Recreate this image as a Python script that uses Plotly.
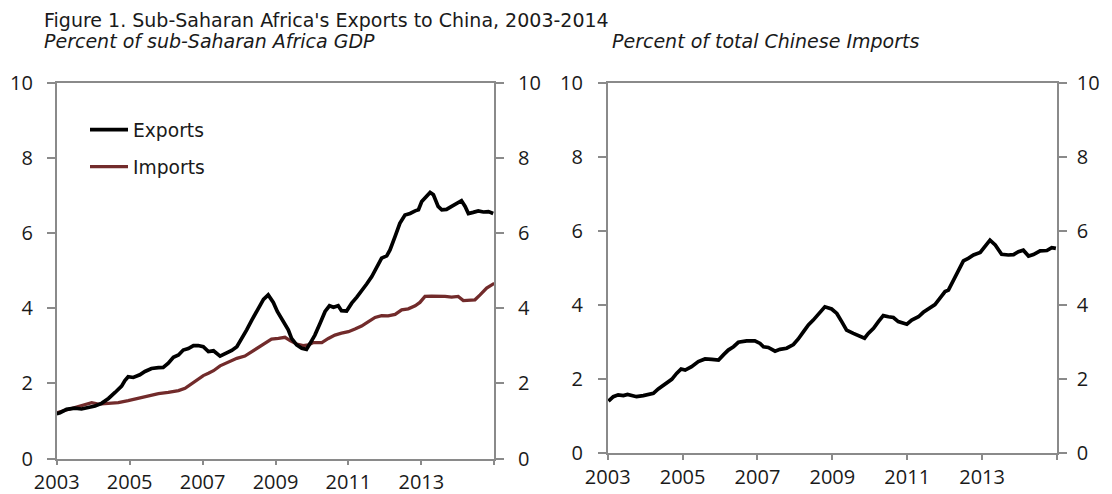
import plotly.graph_objects as go

# ---------------- data ----------------
exports_t = [2003.00, 2003.09, 2003.27, 2003.50, 2003.68, 2003.87, 2004.05, 2004.23, 2004.42, 2004.60,
             2004.78, 2004.87, 2004.96, 2005.10, 2005.28, 2005.42, 2005.60, 2005.79, 2005.92, 2006.06,
             2006.20, 2006.34, 2006.47, 2006.61, 2006.75, 2006.88, 2007.02, 2007.16, 2007.30, 2007.48,
             2007.62, 2007.80, 2007.94, 2008.07, 2008.21, 2008.35, 2008.48, 2008.57, 2008.67, 2008.80,
             2008.94, 2009.05, 2009.21, 2009.35, 2009.44, 2009.58, 2009.72, 2009.85, 2009.95, 2010.08,
             2010.22, 2010.36, 2010.48, 2010.59, 2010.72, 2010.81, 2010.95, 2011.09, 2011.23, 2011.36,
             2011.50, 2011.64, 2011.77, 2011.91, 2012.05, 2012.14, 2012.28, 2012.41, 2012.55, 2012.69,
             2012.83, 2012.92, 2013.01, 2013.14, 2013.24, 2013.33, 2013.46, 2013.56, 2013.69, 2013.83,
             2013.97, 2014.10, 2014.20, 2014.29, 2014.42, 2014.56, 2014.70, 2014.84, 2014.97]
exports_v = [1.19, 1.22, 1.31, 1.34, 1.32, 1.36, 1.40, 1.47, 1.60, 1.76,
             1.93, 2.08, 2.18, 2.16, 2.23, 2.32, 2.40, 2.42, 2.43, 2.54,
             2.70, 2.76, 2.89, 2.93, 3.01, 3.01, 2.98, 2.85, 2.87, 2.73,
             2.80, 2.88, 2.98, 3.18, 3.43, 3.69, 3.91, 4.05, 4.24, 4.36,
             4.16, 3.92, 3.65, 3.43, 3.20, 3.03, 2.94, 2.91, 3.07, 3.29,
             3.60, 3.92, 4.07, 4.03, 4.07, 3.94, 3.93, 4.14, 4.30, 4.49,
             4.65, 4.85, 5.07, 5.34, 5.40, 5.56, 5.92, 6.27, 6.49, 6.53,
             6.60, 6.63, 6.85, 6.98, 7.09, 7.03, 6.72, 6.63, 6.64, 6.72,
             6.80, 6.87, 6.72, 6.53, 6.56, 6.60, 6.57, 6.58, 6.53]

imports_t = [2003.00, 2003.23, 2003.50, 2003.73, 2003.96, 2004.14, 2004.42, 2004.69, 2004.96, 2005.24,
             2005.51, 2005.79, 2006.06, 2006.34, 2006.52, 2006.70, 2006.88, 2007.02, 2007.16, 2007.30,
             2007.48, 2007.71, 2007.94, 2008.16, 2008.35, 2008.53, 2008.71, 2008.89, 2009.08, 2009.26,
             2009.40, 2009.58, 2009.76, 2009.90, 2010.04, 2010.27, 2010.45, 2010.63, 2010.81, 2011.00,
             2011.18, 2011.36, 2011.55, 2011.73, 2011.91, 2012.09, 2012.28, 2012.46, 2012.64, 2012.83,
             2012.96, 2013.10, 2013.28, 2013.46, 2013.65, 2013.83, 2014.01, 2014.15, 2014.33, 2014.47,
             2014.61, 2014.79, 2015.00]
imports_v = [1.22, 1.29, 1.36, 1.43, 1.49, 1.45, 1.46, 1.49, 1.54, 1.60,
             1.68, 1.73, 1.76, 1.81, 1.87, 1.99, 2.11, 2.21, 2.27, 2.34,
             2.47, 2.58, 2.67, 2.73, 2.85, 2.96, 3.09, 3.18, 3.20, 3.23,
             3.14, 3.05, 3.01, 3.03, 3.09, 3.09, 3.20, 3.29, 3.34, 3.38,
             3.45, 3.53, 3.65, 3.76, 3.81, 3.80, 3.84, 3.96, 3.99, 4.07,
             4.16, 4.32, 4.33, 4.33, 4.32, 4.30, 4.32, 4.21, 4.23, 4.23,
             4.36, 4.54, 4.67]

share_t = [2003.02, 2003.15, 2003.28, 2003.42, 2003.53, 2003.64, 2003.77, 2003.95, 2004.09, 2004.22,
           2004.35, 2004.53, 2004.71, 2004.84, 2004.96, 2005.07, 2005.24, 2005.42, 2005.60, 2005.78,
           2005.96, 2006.09, 2006.22, 2006.36, 2006.49, 2006.71, 2006.93, 2007.07, 2007.16, 2007.29,
           2007.47, 2007.60, 2007.78, 2007.96, 2008.09, 2008.23, 2008.36, 2008.49, 2008.63, 2008.80,
           2008.98, 2009.12, 2009.25, 2009.38, 2009.56, 2009.70, 2009.86, 2009.96, 2010.10, 2010.23,
           2010.36, 2010.50, 2010.63, 2010.76, 2010.90, 2010.99, 2011.12, 2011.30, 2011.43, 2011.61,
           2011.74, 2011.88, 2012.01, 2012.10, 2012.23, 2012.37, 2012.50, 2012.63, 2012.77, 2012.95,
           2013.08, 2013.21, 2013.35, 2013.52, 2013.70, 2013.84, 2013.97, 2014.10, 2014.24, 2014.37,
           2014.55, 2014.73, 2014.86, 2014.97]
share_v = [1.41, 1.53, 1.58, 1.56, 1.59, 1.56, 1.53, 1.56, 1.58, 1.62,
           1.74, 1.86, 2.00, 2.16, 2.28, 2.25, 2.34, 2.48, 2.55, 2.54,
           2.52, 2.66, 2.79, 2.88, 3.00, 3.04, 3.04, 2.97, 2.88, 2.86,
           2.76, 2.81, 2.84, 2.94, 3.09, 3.29, 3.47, 3.60, 3.75, 3.96,
           3.90, 3.78, 3.56, 3.33, 3.24, 3.17, 3.11, 3.24, 3.38, 3.56,
           3.72, 3.69, 3.67, 3.56, 3.51, 3.49, 3.60, 3.69, 3.81, 3.92,
           4.02, 4.20, 4.37, 4.41, 4.68, 4.95, 5.20, 5.27, 5.36, 5.43,
           5.58, 5.76, 5.63, 5.38, 5.36, 5.37, 5.45, 5.49, 5.33, 5.37,
           5.47, 5.48, 5.56, 5.54]

year_ticks = [2003, 2005, 2007, 2009, 2011, 2013, 2015]
year_labels = ["2003", "2005", "2007", "2009", "2011", "2013", ""]
y_ticks = [0, 2, 4, 6, 8, 10]

title_text = "Figure 1. Sub-Saharan Africa's Exports to China, 2003-2014"
left_subtitle = "Percent of sub-Saharan Africa GDP"
right_subtitle = "Percent of total Chinese Imports"

# ---------------- styling ----------------
W, H = 1112, 494
OFF = 8  # the page body adds an 8px margin around the figure
AX = "#8a8a8a"
TXT = "#1a1a1a"
TICKFONT = dict(family="Open Sans", size=20, color=TXT)
HEADFONT = dict(family="DejaVu Sans", size=19, color=TXT)
LEGFONT = dict(family="DejaVu Sans", size=18.7, color=TXT)

def px_x(p):
    return (p - OFF) / W

def px_y(p):
    return 1 - (p - OFF) / H

fig = go.Figure()

fig.add_trace(go.Scatter(x=imports_t, y=imports_v, name="Imports", mode="lines",
                         line=dict(color="#722b2b", width=3.3), xaxis="x", yaxis="y",
                         legend="legend2", hoverinfo="skip"))
fig.add_trace(go.Scatter(x=exports_t, y=exports_v, name="Exports", mode="lines",
                         line=dict(color="#000000", width=3.7), xaxis="x", yaxis="y2",
                         legend="legend", hoverinfo="skip"))
fig.add_trace(go.Scatter(x=share_t, y=share_v, name="Share", mode="lines",
                         line=dict(color="#000000", width=3.7), xaxis="x2", yaxis="y4",
                         showlegend=False, hoverinfo="skip"))
# keeps the primary axis of the right panel attached to a trace
fig.add_trace(go.Scatter(x=share_t, y=share_v, mode="lines", line=dict(width=0, color="rgba(0,0,0,0)"),
                         xaxis="x2", yaxis="y3", showlegend=False, hoverinfo="skip"))

xdom1 = [px_x(56.7), px_x(494.3)]
xdom2 = [px_x(607.7), px_x(1057)]
ydom1 = [px_y(458.5), px_y(83.3)]
ydom2 = [px_y(453.3), px_y(83.3)]

xcommon = dict(range=[2003, 2015], tickmode="array", tickvals=year_ticks, ticktext=year_labels,
               showgrid=False, zeroline=False, showline=True, linecolor=AX, linewidth=1.5,
               mirror=True, ticks="outside", tickcolor=AX, tickwidth=1.5,
               tickfont=TICKFONT, automargin=False)
ycommon = dict(range=[0, 10], tickmode="array", tickvals=y_ticks, showgrid=False, zeroline=False,
               showline=True, linecolor=AX, linewidth=1.5, ticks="outside", ticklen=8,
               tickcolor=AX, tickwidth=1.5, tickfont=TICKFONT, fixedrange=True, automargin=False)

fig.update_layout(
    template="none",
    width=W, height=H, autosize=False,
    margin=dict(l=0, r=0, t=0, b=0, pad=0, autoexpand=False),
    paper_bgcolor="white", plot_bgcolor="white",
    xaxis=dict(domain=xdom1, anchor="y", ticklen=5, ticklabelstandoff=0, **xcommon),
    xaxis2=dict(domain=xdom2, anchor="y3", ticklen=5, ticklabelstandoff=0, **xcommon),
    yaxis=dict(domain=ydom1, anchor="x", side="left", ticklabelstandoff=10, **ycommon),
    yaxis2=dict(domain=ydom1, anchor="x", overlaying="y", side="right", ticklabelstandoff=10, **ycommon),
    yaxis3=dict(domain=ydom2, anchor="x2", side="left", ticklabelstandoff=11, **ycommon),
    yaxis4=dict(domain=ydom2, anchor="x2", overlaying="y3", side="right", ticklabelstandoff=6, **ycommon),
    legend=dict(x=px_x(85), y=px_y(130), xanchor="left", yanchor="middle",
                bgcolor="rgba(0,0,0,0)", borderwidth=0, font=LEGFONT, itemwidth=38),
    legend2=dict(x=px_x(85), y=px_y(167), xanchor="left", yanchor="middle",
                 bgcolor="rgba(0,0,0,0)", borderwidth=0, font=LEGFONT, itemwidth=38),
    showlegend=True,
    annotations=[
        dict(text=title_text, xref="paper", yref="paper", x=px_x(42), y=px_y(20.2),
             xanchor="left", yanchor="middle", showarrow=False, font=HEADFONT),
        dict(text="<i>" + left_subtitle + "</i>", xref="paper", yref="paper", x=px_x(42), y=px_y(40.6),
             xanchor="left", yanchor="middle", showarrow=False, font=HEADFONT),
        dict(text="<i>" + right_subtitle + "</i>", xref="paper", yref="paper", x=px_x(610), y=px_y(40.6),
             xanchor="left", yanchor="middle", showarrow=False, font=HEADFONT),
    ],
)

fig.write_html("out.html")
